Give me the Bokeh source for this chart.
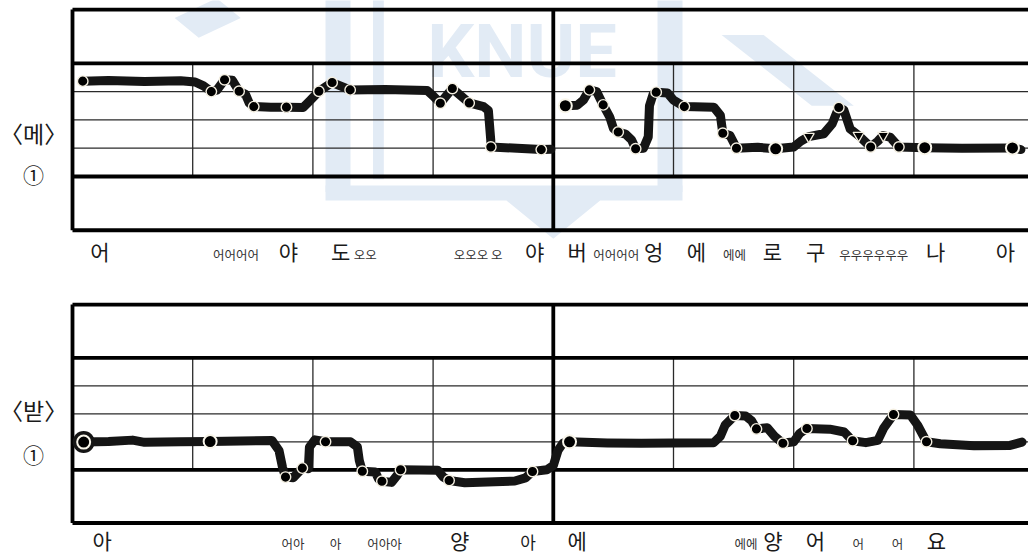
from bokeh.plotting import figure
from bokeh.layouts import column
from bokeh.core.properties import value
from bokeh.embed import file_html
from bokeh.resources import INLINE

# ---------------- data ----------------
# x: time in measures (4 measures per half-line), y: pitch level (0 and 4 = thick staff lines)

# <메> contour, two strokes
MAE_A_X = [0.085, 0.30, 0.60, 0.90, 1.02, 1.09, 1.155, 1.20, 1.265, 1.33, 1.386, 1.44, 1.47, 1.508,
           1.65, 1.78, 1.92, 1.98, 2.05, 2.16, 2.31, 2.60, 2.95, 3.00, 3.06, 3.16, 3.30, 3.42, 3.46,
           3.48, 3.48, 3.70, 3.90, 3.98]
MAE_A_Y = [3.37, 3.39, 3.36, 3.38, 3.34, 3.20, 3.00, 3.05, 3.42, 3.40, 3.01, 2.90, 2.60, 2.47,
           2.45, 2.45, 2.44, 2.70, 3.01, 3.32, 3.06, 3.07, 3.04, 2.85, 2.59, 3.11, 2.60, 2.47, 2.33,
           1.27, 1.04, 1.00, 0.95, 0.96]
MAE_B_X = [4.10, 4.20, 4.25, 4.30, 4.36, 4.415, 4.47, 4.50, 4.54, 4.60, 4.65, 4.685, 4.75, 4.79,
           4.80, 4.83, 4.856, 4.95, 5.00, 5.09, 5.335, 5.39, 5.41, 5.47, 5.50, 5.524, 5.70, 5.85,
           6.00, 6.06, 6.125, 6.25, 6.32, 6.375, 6.417, 6.47, 6.54, 6.64, 6.70, 6.745, 6.805,
           6.875, 7.09, 7.40, 7.82, 7.89]
MAE_B_Y = [2.50, 2.52, 2.70, 3.06, 3.00, 2.53, 2.10, 1.70, 1.57, 1.50, 1.30, 0.98, 1.00, 1.40,
           2.50, 2.90, 2.98, 2.95, 2.70, 2.47, 2.45, 2.16, 1.53, 1.45, 1.20, 1.00, 1.03, 0.98,
           1.04, 1.25, 1.41, 1.51, 1.86, 2.44, 2.35, 1.68, 1.45, 1.04, 1.25, 1.45, 1.38,
           1.04, 1.02, 1.00, 1.01, 0.95]
MAE_DOT_X = [0.085, 1.155, 1.265, 1.386, 1.508, 1.78, 2.05, 2.16, 2.31, 3.06, 3.16, 3.30, 3.48, 3.90,
             4.30, 4.415, 4.54, 4.685, 4.856, 5.09, 5.41, 5.524, 6.375, 6.64, 6.875]
MAE_DOT_Y = [3.37, 3.00, 3.42, 3.01, 2.47, 2.45, 3.01, 3.32, 3.06, 2.59, 3.11, 2.60, 1.04, 0.95,
             3.06, 2.53, 1.57, 0.98, 2.98, 2.47, 1.53, 1.00, 2.44, 1.04, 1.04]
MAE_RING_X = [4.10, 5.85, 7.09, 7.82]
MAE_RING_Y = [2.50, 0.98, 1.02, 1.01]
MAE_TRI_X = [6.125, 6.54, 6.745]
MAE_TRI_Y = [1.41, 1.45, 1.45]

# <받> contour, one stroke
BAT_X = [0.093, 0.30, 0.50, 0.60, 0.90, 1.145, 1.40, 1.659, 1.718, 1.747, 1.772, 1.837, 1.912,
         1.962, 1.971, 2.016, 2.105, 2.313, 2.37, 2.386, 2.411, 2.52, 2.545, 2.574, 2.654, 2.699,
         2.729, 3.04, 3.085, 3.133, 3.264, 3.68, 3.769, 3.827, 3.947, 4.00, 4.04, 4.08, 4.135,
         4.45, 4.73, 5.00, 5.335, 5.39, 5.43, 5.51, 5.60, 5.65, 5.69, 5.78, 5.84, 5.91, 6.00,
         6.05, 6.11, 6.30, 6.42, 6.49, 6.60, 6.70, 6.75, 6.83, 6.97, 7.03, 7.105, 7.22, 7.50,
         7.80, 7.90]
BAT_Y = [0.99, 1.01, 1.06, 0.98, 1.00, 1.01, 1.03, 1.05, 0.69, 0.09, -0.26, -0.28, 0.06,
         0.04, 0.81, 1.07, 1.00, 1.00, 0.82, 0.33, -0.05, -0.08, -0.32, -0.41, -0.45, -0.21,
         0.00, -0.02, -0.26, -0.38, -0.46, -0.40, -0.29, -0.06, 0.00, 0.15, 0.70, 0.95, 1.00,
         0.96, 0.95, 0.96, 0.97, 1.20, 1.60, 1.94, 1.92, 1.75, 1.46, 1.50, 1.20, 0.95, 1.00,
         1.30, 1.475, 1.45, 1.35, 1.035, 0.97, 1.05, 1.50, 1.975, 1.96, 1.60, 1.00, 0.93, 0.86,
         0.87, 0.99]
BAT_DOT_X = [1.772, 1.912, 2.105, 2.411, 2.574, 2.729, 3.133, 3.827,
             5.51, 5.69, 5.91, 6.11, 6.49, 6.83, 7.105]
BAT_DOT_Y = [-0.26, 0.06, 1.00, -0.05, -0.41, 0.00, -0.38, -0.06,
             1.94, 1.46, 0.95, 1.475, 1.035, 1.975, 1.00]
BAT_RING_X = [0.093, 1.145, 4.135]
BAT_RING_Y = [0.99, 1.01, 1.00]

# lyrics (syllables) with their time positions
MAE_SYL = ["어", "야", "도", "야", "버", "엉", "에", "로", "구", "나", "아"]
MAE_SYL_T = [0.229, 1.797, 2.23, 3.844, 4.199, 4.834, 5.19, 5.823, 6.183, 7.18, 7.762]
MAE_MEL = ["어어어어", "오오", "오오오 오", "어어어어", "에에", "우우우우우우"]
MAE_MEL_T = [1.36, 2.435, 3.374, 4.524, 5.507, 6.666]
BAT_SYL = ["아", "양", "에", "양", "어", "요"]
BAT_SYL_T = [0.247, 3.22, 4.199, 5.828, 6.181, 7.188]
BAT_MID = ["아"]
BAT_MID_T = [3.79]
BAT_MEL = ["어아", "아", "어아아", "에에", "어", "어"]
BAT_MEL_T = [1.834, 2.188, 2.596, 5.603, 6.537, 6.864]

PANEL_TITLES = ["〈메〉", "〈받〉"]
PANEL_NUMS = ["①", "①"]

# staff structure
STAFF_THICK = [0, 4]
STAFF_THIN = [1, 2, 3]
BOX_EDGES = [-1.9, 5.9]
BARS_THIN = [1, 2, 3, 5, 6, 7]
BARS_THICK = [0, 4]

# faint background watermark (decoration)
WM_LEFT_X = [2.105, 2.313, 2.313, 2.105]
WM_LEFT_Y = [6.4, 6.4, -0.55, -0.55]
WM_RIGHT_X = [4.867, 5.075, 5.075, 4.867]
WM_RIGHT_Y = [6.4, 6.4, -0.55, -0.55]
WM_BASE_X = [2.105, 5.075, 5.075, 4.39, 4.0, 3.61, 2.105]
WM_BASE_Y = [-0.32, -0.32, -0.85, -0.85, -2.2, -0.85, -0.85]
WM_INNER_X = [2.5, 2.59, 2.59, 2.5]
WM_INNER_Y = [6.4, 6.4, -0.1, -0.1]
WM_DIAG_XS = [[0.85, 1.2, 1.4, 1.05], [5.4, 5.75, 6.5, 6.15]]
WM_DIAG_YS = [[5.6, 6.3, 5.6, 4.9], [5.0, 5.0, 2.5, 2.5]]
WM_TEXT = ["KNUE"]

# ---------------- layout ----------------
W = 1028
COL_W = 120.2
X0_PX = 72
FONT = "Noto Sans CJK KR"
INK = "#151515"
WM_COL = "#e2ebf5"


def make_panel(height, zero_px, unit_px):
    x_start = -X0_PX / COL_W
    x_end = x_start + W / COL_W
    y_end = zero_px / unit_px
    y_start = y_end - height / unit_px
    p = figure(width=W, height=height, output_backend="svg", toolbar_location=None,
               x_range=(x_start, x_end), y_range=(y_start, y_end),
               x_axis_location=None, y_axis_location=None, min_border=0,
               outline_line_color=None, background_fill_color="white",
               border_fill_color="white")
    p.grid.visible = False
    return p


def draw_staff(p):
    xr = 9.0
    p.segment(x0=0, x1=xr, y0=STAFF_THIN, y1=STAFF_THIN, line_color="#2a2a2a", line_width=1.3)
    p.segment(x0=BARS_THIN, x1=BARS_THIN, y0=0, y1=4, line_color="#2a2a2a", line_width=1.3)
    p.segment(x0=0, x1=xr, y0=STAFF_THICK, y1=STAFF_THICK, line_color="black", line_width=3.8)
    p.segment(x0=0, x1=xr, y0=BOX_EDGES, y1=BOX_EDGES, line_color="black", line_width=3.8)
    p.segment(x0=BARS_THICK, x1=BARS_THICK, y0=BOX_EDGES[0], y1=BOX_EDGES[1],
              line_color="black", line_width=3.8)


def draw_text(p, xs, y, texts, size, color="#1a1a1a"):
    p.text(x=xs, y=[y] * len(xs), text=texts, text_font=value(FONT),
           text_font_size=value(size), text_align="center", text_baseline="middle",
           text_color=color)


def draw_points(p, dx, dy, rx, ry):
    p.scatter(x=dx, y=dy, size=10.5, marker="circle", fill_color="black",
              line_color="#f3eee0", line_width=1.4)
    p.scatter(x=rx, y=ry, size=13, marker="circle", fill_color="black",
              line_color="#f8f5ea", line_width=2.0)


# ---- top panel <메> ----
p1 = make_panel(280, 176, 28.3)
p1.patches(xs=[WM_LEFT_X, WM_RIGHT_X, WM_BASE_X, WM_INNER_X] + WM_DIAG_XS,
           ys=[WM_LEFT_Y, WM_RIGHT_Y, WM_BASE_Y, WM_INNER_Y] + WM_DIAG_YS,
           fill_color=WM_COL, line_color=None)
p1.text(x=[3.74], y=[4.4], text=WM_TEXT, text_font=value("Roboto"),
        text_font_style="bold", text_font_size=value("74px"), text_align="center",
        text_baseline="middle", text_color=WM_COL)
draw_staff(p1)
p1.multi_line(xs=[MAE_A_X, MAE_B_X], ys=[MAE_A_Y, MAE_B_Y], line_color=INK, line_width=9,
              line_cap="round", line_join="round")
draw_points(p1, MAE_DOT_X, MAE_DOT_Y, MAE_RING_X, MAE_RING_Y)
p1.scatter(x=MAE_TRI_X, y=MAE_TRI_Y, size=11, marker="inverted_triangle", fill_color="black",
           line_color="#f3eee0", line_width=1.3)
draw_text(p1, MAE_SYL_T, -2.65, MAE_SYL, "21px")
draw_text(p1, MAE_MEL_T, -2.75, MAE_MEL, "12.5px", "#333")
draw_text(p1, [-0.324], 1.52, PANEL_TITLES[:1], "23px")
draw_text(p1, [-0.324], 0.106, PANEL_NUMS[:1], "21px")

# ---- bottom panel <받> ----
p2 = make_panel(277, 189.3, 28.0)
draw_staff(p2)
p2.scatter(x=BAT_RING_X[:1], y=BAT_RING_Y[:1], size=22, marker="circle", fill_color=INK,
           line_color=None)
p2.line(x=BAT_X, y=BAT_Y, line_color=INK, line_width=9, line_cap="round", line_join="round")
draw_points(p2, BAT_DOT_X, BAT_DOT_Y, BAT_RING_X, BAT_RING_Y)
draw_text(p2, BAT_SYL_T, -2.50, BAT_SYL, "21px")
draw_text(p2, BAT_MID_T, -2.56, BAT_MID, "17px")
draw_text(p2, BAT_MEL_T, -2.62, BAT_MEL, "12.5px", "#333")
draw_text(p2, [-0.324], 2.12, PANEL_TITLES[1:], "23px")
draw_text(p2, [-0.324], 0.58, PANEL_NUMS[1:], "21px")

layout = column(p1, p2, spacing=0)
open("out.html", "w").write(file_html(layout, INLINE))
